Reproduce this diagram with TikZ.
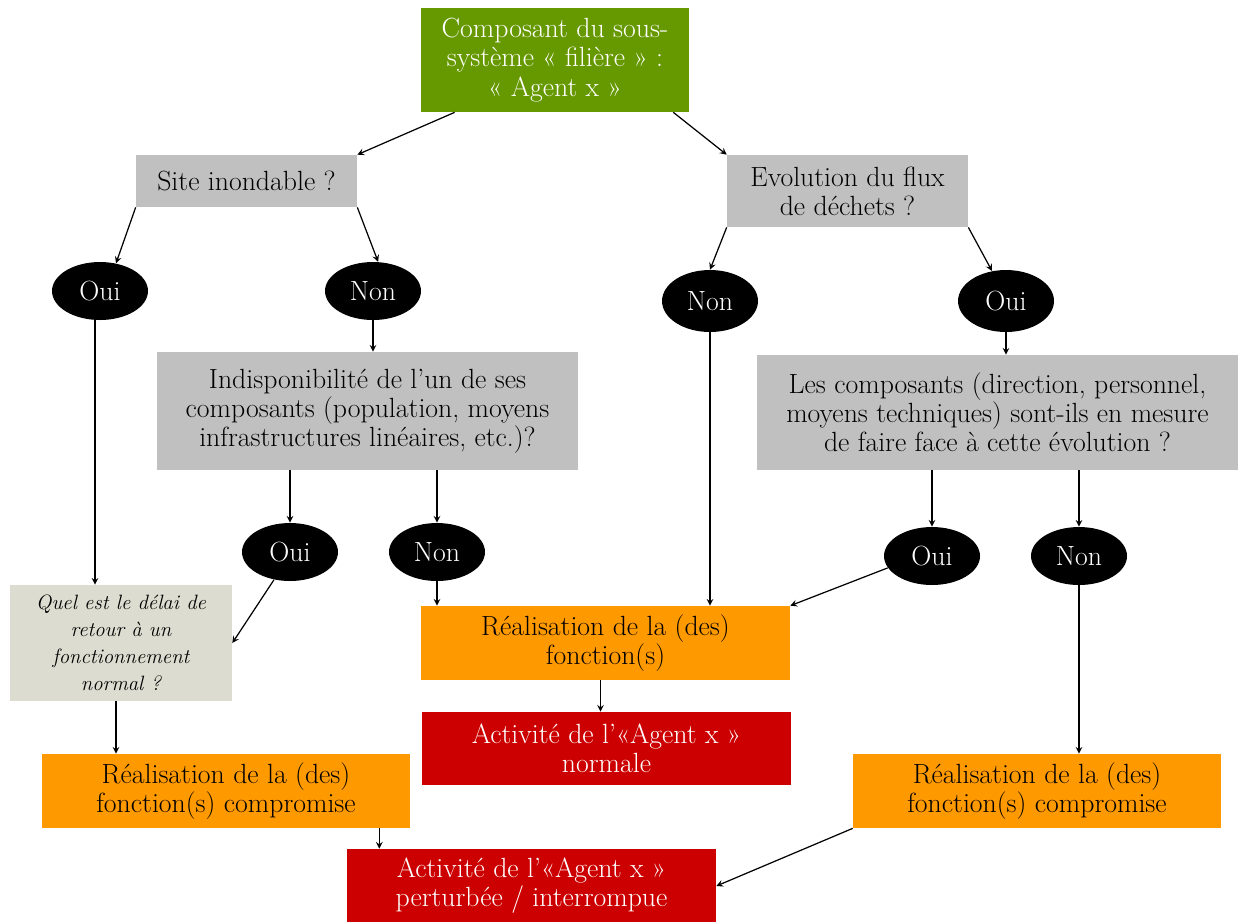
\documentclass[tikz,border=0pt]{standalone}
\usepackage{tikz}
\usetikzlibrary{shapes.geometric,arrows,positioning}

\begin{document}
\begin{tikzpicture}[x=0.02cm,y=-0.02cm,
    box/.style={rectangle,inner sep=2pt,align=center,font=\fontsize{15.8}{16.6}\selectfont},
    greenbox/.style={box,fill=leafgreen,text=white},
    graybox/.style={box,fill=qgray},
    qbox/.style={box,fill=qbeige,font=\fontsize{11.8}{15.4}\selectfont\itshape},
    orangebox/.style={box,fill=taskorange},
    redbox/.style={box,fill=alertred,text=white},
    answer/.style={ellipse,fill=black,text=white,minimum width=1.92cm,minimum height=1.16cm,inner sep=0pt,font=\fontsize{15.8}{16.6}\selectfont},
    arrow/.style={->,>=stealth,line width=0.7pt}]
    \definecolor{leafgreen}{HTML}{669900}
    \definecolor{qgray}{HTML}{C0C0C0}
    \definecolor{qbeige}{HTML}{DDDCD0}
    \definecolor{taskorange}{HTML}{FF9900}
    \definecolor{alertred}{HTML}{CC0000}
    \useasboundingbox (0,0) rectangle (1239,921);
    \node[greenbox,minimum width=5.36cm,minimum height=2.08cm] (agent) at (555,60) {Composant du sous-\\syst\`eme « filière » :\\« Agent x »};
    \node[graybox,minimum width=4.42cm,minimum height=1.04cm] (site) at (246.5,181) {Site inondable ?};
    \node[graybox,minimum width=4.82cm,minimum height=1.44cm] (flux) at (847.5,191) {Evolution du flux\\de déchets ?};
    \node[answer] (ouiA) at (100,291) {Oui};
    \node[answer] (nonA) at (373,291) {Non};
    \node[answer,minimum height=1.24cm] (nonB) at (710,301) {Non};
    \node[answer,minimum height=1.24cm] (ouiB) at (1006,301) {Oui};
    \node[graybox,minimum width=8.42cm,minimum height=2.36cm] (indispo) at (367.5,411) {Indisponibilité de l’un de ses\\composants (population, moyens\\infrastructures linéaires, etc.)?};
    \node[graybox,minimum width=9.62cm,minimum height=2.3cm] (capacite) at (997.5,412.5) {Les composants (direction, personnel,\\moyens techniques) sont-ils en mesure\\de faire face à cette évolution ?};
    \node[answer] (ouiC) at (290,552) {Oui};
    \node[answer] (nonC) at (437,552) {Non};
    \node[answer] (ouiD) at (932,556) {Oui};
    \node[answer] (nonD) at (1079,556) {Non};
    \node[qbox,minimum width=4.44cm,minimum height=2.32cm] (delai) at (121,643) {Quel est le délai de\\retour à un\\fonctionnement\\normal ?};
    \node[orangebox,minimum width=7.38cm,minimum height=1.48cm] (realN) at (605.5,643) {Réalisation de la (des)\\fonction(s)};
    \node[redbox,minimum width=7.38cm,minimum height=1.46cm] (actN) at (606.5,748.5) {Activité de l’«Agent x »\\normale};
    \node[orangebox,minimum width=7.36cm,minimum height=1.48cm] (realL) at (226,791) {Réalisation de la (des)\\fonction(s) compromise};
    \node[orangebox,minimum width=7.36cm,minimum height=1.48cm] (realR) at (1037,791) {Réalisation de la (des)\\fonction(s) compromise};
    \node[redbox,minimum width=7.38cm,minimum height=1.48cm] (actP) at (531.5,886) {Activité de l’«Agent x »\\perturbée / interrompue};
    \draw[arrow] ([xshift=0.68cm]agent.south west) -- (site.north east);
    \draw[arrow] ([xshift=-0.32cm]agent.south east) -- (flux.north west);
    \draw[arrow] (site.south west) -- (ouiA.60);
    \draw[arrow] (site.south east) -- (nonA.80);
    \draw[arrow] (flux.south west) -- (nonB.north);
    \draw[arrow] (flux.south east) -- (ouiB.115);
    \draw[arrow] ([xshift=-0.1cm]ouiA.south) -- ([xshift=-0.1cm]ouiA.south |- delai.north);
    \draw[arrow] (nonA.south) -- (nonA.south |- indispo.north);
    \draw[arrow] (nonB.south) -- (nonB.south |- realN.north);
    \draw[arrow] (ouiB.south) -- (ouiB.south |- capacite.north);
    \draw[arrow] (indispo.south -| ouiC) -- (ouiC.north);
    \draw[arrow] (indispo.south -| nonC) -- (nonC.north);
    \draw[arrow] (capacite.south -| ouiD) -- (ouiD.north);
    \draw[arrow] (capacite.south -| nonD) -- (nonD.north);
    \draw[arrow] (ouiC.240) -- (delai.east);
    \draw[arrow] (nonC.south) -- (nonC.south |- realN.north);
    \draw[arrow] (ouiD.195) -- (realN.north east);
    \draw[arrow] (nonD.south) -- (nonD.south |- realR.north);
    \draw[arrow] ([xshift=-0.1cm]delai.south) -- ([xshift=-0.1cm]delai.south |- realL.north);
    \draw[arrow] ([xshift=-0.1cm]realN.south) -- ([xshift=-0.1cm]realN.south |- actN.north);
    \draw[arrow] ([xshift=-0.62cm]realL.south east) -- ([xshift=-0.62cm]realL.south east |- actP.north);
    \draw[arrow] (realR.south west) -- (actP.east);
\end{tikzpicture}
\end{document}
